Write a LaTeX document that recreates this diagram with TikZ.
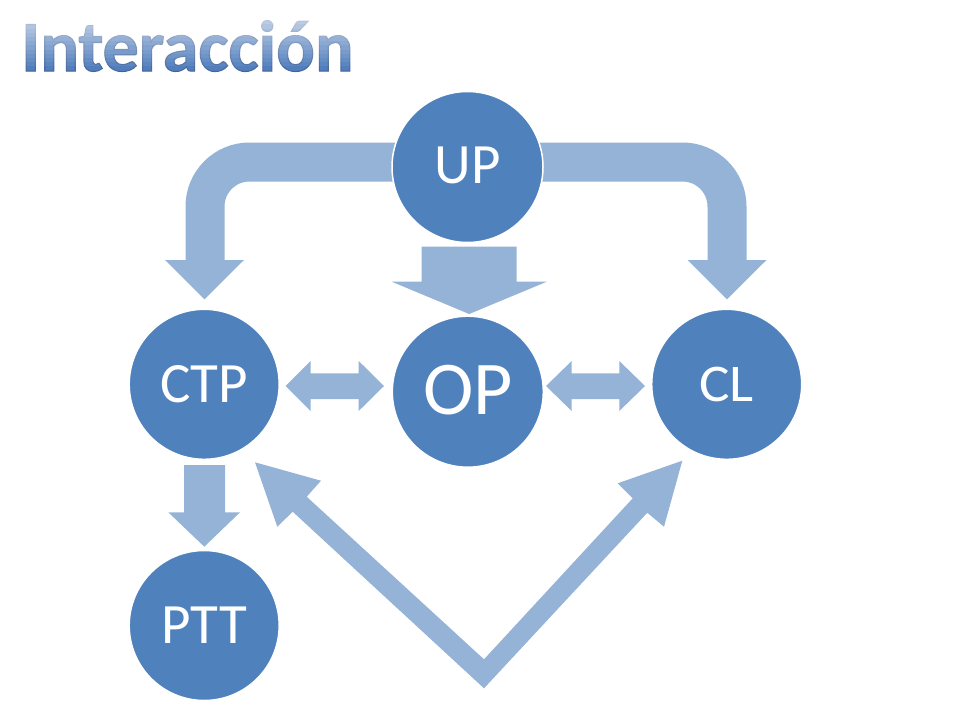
\documentclass[tikz,border=0pt]{standalone}
\usepackage{fontspec}
\setmainfont{Carlito}
\usetikzlibrary{backgrounds,calc}
\definecolor{nodeblue}{HTML}{4F81BD}
\definecolor{arrowblue}{HTML}{95B3D7}
\definecolor{titledark}{HTML}{4878BA}
\begin{document}
\begin{tikzpicture}[x=1pt,y=-1pt,
  circ/.style={circle, fill=nodeblue, draw=white, line width=1.5pt, minimum size=151pt, inner sep=0pt, text=white},
  band/.style={draw=arrowblue, line width=39pt},
  blockarrow/.style={fill=arrowblue},
  ttl/.style={font=\fontsize{72}{72}\selectfont\bfseries, anchor=base west, inner sep=0pt}]
\useasboundingbox (0,0) rectangle (960,720);

% circles
\node[circ, font=\fontsize{57}{57}\selectfont] (UP) at (467.5,167) {\raisebox{4pt}{UP}};
\node[circ, font=\fontsize{76}{76}\selectfont] (OP) at (467.8,391.7) {\raisebox{3pt}{OP}};
\node[circ, minimum size=150pt, font=\fontsize{57}{57}\selectfont] (CTP) at (204.2,384.3) {CTP};
\node[circ, minimum size=150pt, font=\fontsize{53}{53}\selectfont] (CL) at (726.7,384.3) {\scalebox{1.08}[1]{CL}};
\node[circ, minimum size=150pt, font=\fontsize{57}{57}\selectfont] (PTT) at (204.2,625.5) {PTT};

\begin{pgfonlayer}{background}
\fill[white] (0,0) rectangle (960,720);
% UP -> CTP (curved)
\coordinate (hl) at (205,260);
\coordinate (tipl) at (204.5,299.3);
\draw[band, rounded corners=44.5pt] ($(UP.center)+(0,-5)$) -| (hl);
\fill[blockarrow] ($(hl)+(-40,0)$) -- ($(hl)+(39,0)$) -- (tipl) -- cycle;
% UP -> CL (curved)
\coordinate (hr) at (727,260);
\coordinate (tipr) at (727,299.3);
\draw[band, rounded corners=44.5pt] ($(UP.center)+(0,-5)$) -| (hr);
\fill[blockarrow] ($(hr)+(-39.5,0)$) -- ($(hr)+(39.5,0)$) -- (tipr) -- cycle;
% UP -> OP
\fill[blockarrow] (421.7,246.7) -- (516.7,246.7) -- (516.7,281.7) -- (546.7,281.7)
  -- (469.2,314) -- (391.7,281.7) -- (421.7,281.7) -- cycle;
% CTP <-> OP
\fill[blockarrow] (285.7,386) -- (310.7,361) -- (310.7,373.3) -- (358.7,373.3) -- (358.7,361)
  -- (384,386) -- (358.7,411) -- (358.7,399) -- (310.7,399) -- (310.7,411) -- cycle;
% OP <-> CL
\fill[blockarrow] (546,386) -- (571.7,361) -- (571.7,373.3) -- (619.3,373.3) -- (619.3,361)
  -- (645,386) -- (619.3,411) -- (619.3,399) -- (571.7,399) -- (571.7,411) -- cycle;
% CTP -> PTT
\fill[blockarrow] (184,465) -- (225,465) -- (225,512.3) -- (240,512.3) -- (204.3,546.7)
  -- (168.3,512.3) -- (184,512.3) -- cycle;
% V arrow CTP <- -> CL
\fill[blockarrow] (255,462.3) -- (321,480.7) -- (306.7,496.7) -- (484,659.3) -- (632.7,498.3)
  -- (617.7,483.3) -- (682.3,460.7) -- (664,526.7) -- (647.3,512.7) -- (484,688.3)
  -- (292.7,511.7) -- (277.3,526.7) -- cycle;
\end{pgfonlayer}

% title: one text, outlined, lightened towards the top
\node[ttl, text=titledark] (title) at (21,71)
  {\special{pdf:code q 2 Tr 1.1 w 0.26 0.39 0.60 RG}Interacción\special{pdf:code Q}};
\foreach \i in {0,...,12} {
  \pgfmathsetmacro{\op}{0.68*(1-\i/13)}
  \fill[white, fill opacity=\op] (18,{16+\i*4.2}) rectangle (360,{20.2+\i*4.2});
}
\end{tikzpicture}
\end{document}
